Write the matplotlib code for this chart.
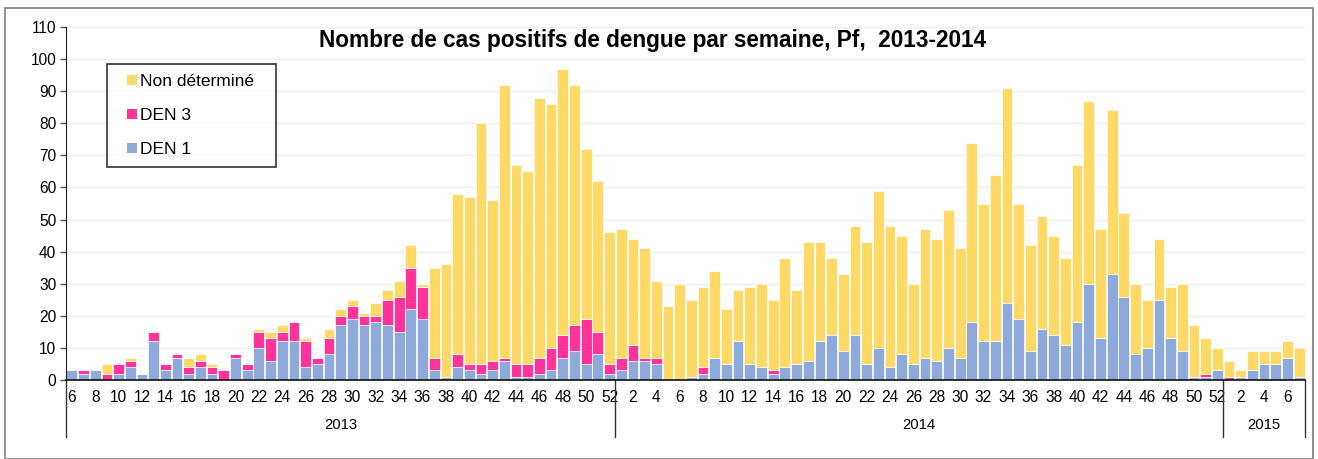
import numpy as np
import matplotlib
matplotlib.use("Agg")
import matplotlib.pyplot as plt
from matplotlib.lines import Line2D
from matplotlib.patches import Rectangle
from matplotlib.transforms import blended_transform_factory

plt.rcParams["font.family"] = ["Liberation Sans", "DejaVu Sans"]

# ---- data (weeks, cases by serotype) ----
years = ["2013", "2014", "2015"]
weeks_2013 = list(range(6, 53))
weeks_2014 = list(range(1, 53))
weeks_2015 = list(range(1, 8))

den1_2013 = [3, 2, 3, 0, 2, 4, 2, 12, 3, 7, 2, 4, 2, 0, 7, 3, 10, 6, 12, 12, 4, 5, 8, 17,
             19, 17, 18, 17, 15, 22, 19, 3, 1, 4, 3, 2, 3, 6, 1, 1, 2, 3, 7, 9, 5, 8, 2]
den3_2013 = [0, 1, 0, 2, 3, 2, 0, 3, 2, 1, 2, 2, 2, 3, 1, 2, 5, 7, 3, 6, 8, 2, 5, 3,
             4, 3, 2, 8, 11, 13, 10, 4, 0, 4, 2, 3, 3, 1, 4, 4, 5, 7, 7, 8, 14, 7, 3]
nd_2013 = [0, 0, 0, 3, 0, 1, 0, 0, 0, 0, 3, 2, 1, 0, 0, 0, 1, 2, 2, 0, 1, 0, 3, 2,
           2, 1, 4, 3, 5, 7, 1, 28, 35, 50, 52, 75, 50, 85, 62, 60, 81, 76, 83, 75, 53, 47, 41]

den1_2014 = [3, 6, 6, 5, 0, 0, 1, 2, 7, 5, 12, 5, 4, 2, 4, 5, 6, 12, 14, 9, 14, 5, 10, 4,
             8, 5, 7, 6, 10, 7, 18, 12, 12, 24, 19, 9, 16, 14, 11, 18, 30, 13, 33, 26, 8, 10,
             25, 13, 9, 1, 1, 3]
den3_2014 = [4, 5, 1, 2, 0, 0, 0, 2, 0, 0, 0, 0, 0, 1, 0, 0, 0, 0, 0, 0, 0, 0, 0, 0,
             0, 0, 0, 0, 0, 0, 0, 0, 0, 0, 0, 0, 0, 0, 0, 0, 0, 0, 0, 0, 0, 0,
             0, 0, 0, 0, 1, 0]
nd_2014 = [40, 33, 34, 24, 23, 30, 24, 25, 27, 17, 16, 24, 26, 22, 34, 23, 37, 31, 24, 24,
           34, 38, 49, 44, 37, 25, 40, 38, 43, 34, 56, 43, 52, 67, 36, 33, 35, 31, 27, 49,
           57, 34, 51, 26, 22, 15, 19, 16, 21, 16, 11, 7]

den1_2015 = [0, 1, 3, 5, 5, 7, 1]
den3_2015 = [1, 0, 0, 0, 0, 0, 0]
nd_2015 = [5, 2, 6, 4, 4, 5, 9]

weeks = weeks_2013 + weeks_2014 + weeks_2015
den1 = np.array(den1_2013 + den1_2014 + den1_2015)
den3 = np.array(den3_2013 + den3_2014 + den3_2015)
nd = np.array(nd_2013 + nd_2014 + nd_2015)
group_sizes = [len(weeks_2013), len(weeks_2014), len(weeks_2015)]

c_den1 = "#8eaadb"
c_den3 = "#ff3399"
c_nd = "#ffd966"

W, H = 1318, 459
fig = plt.figure(figsize=(W / 100, H / 100), dpi=100)
ax = fig.add_axes([66 / W, 1 - 380 / H, (1305 - 66) / W, (380 - 27) / H])

x = np.arange(len(weeks))
bw = 0.92
ax.bar(x, den1, bw, color=c_den1, edgecolor="white", linewidth=0.5, zorder=2)
ax.bar(x, den3, bw, bottom=den1, color=c_den3, edgecolor="white", linewidth=0.5, zorder=2)
ax.bar(x, nd, bw, bottom=den1 + den3, color=c_nd, edgecolor="white", linewidth=0.5, zorder=2)

ax.set_xlim(-0.5, len(weeks) - 0.5)
ax.set_ylim(0, 110)
ax.set_yticks(np.arange(0, 111, 10))
ax.grid(axis="y", color="#eeeeee", linewidth=1, zorder=0)
ax.set_axisbelow(True)

ax.set_xticks(x)
ax.set_xticklabels([str(w) if w % 2 == 0 else "" for w in weeks])
ax.tick_params(axis="x", length=0, pad=7, labelsize=11.2)
ax.tick_params(axis="y", length=4, width=1, color="#555555", pad=3, labelsize=11.2)

for s in ["top", "right"]:
    ax.spines[s].set_visible(False)
ax.spines["left"].set_color("#222222")
ax.spines["bottom"].set_color("#111111")
ax.spines["bottom"].set_linewidth(1.2)

# year grouping below the week labels
trans = blended_transform_factory(ax.transData, ax.transAxes)
edges = np.concatenate([[0], np.cumsum(group_sizes)]) - 0.5
y_low = -(437 - 380) / (380 - 27)
for e in edges:
    ax.plot([e, e], [0, y_low], color="#333333", linewidth=1, transform=trans, clip_on=False)
for i, yr in enumerate(years):
    ax.text((edges[i] + edges[i + 1]) / 2, -(425 - 380) / (380 - 27), yr, transform=trans,
            ha="center", va="center", fontsize=10.7)

fig.text(653 / W, 1 - 41 / H, "Nombre de cas positifs de dengue par semaine, Pf,  2013-2014",
         ha="center", va="center", fontsize=16.3, fontweight="bold")

handles = [Line2D([], [], linestyle="none", marker="s", markersize=6.5, color=c, markeredgewidth=0)
           for c in (c_nd, c_den3, c_den1)]
leg = fig.legend(handles, ["Non déterminé", "DEN 3", "DEN 1"],
                 loc="upper left", mode="expand",
                 bbox_to_anchor=(107 / W, 1 - 163 / H, 169 / W, 99 / H),
                 bbox_transform=fig.transFigure, borderaxespad=0,
                 fontsize=12.5, frameon=True, fancybox=False, shadow=False,
                 borderpad=0.58, labelspacing=1.07, handlelength=1.67, handletextpad=-0.34,
                 numpoints=1)
leg.get_frame().set_edgecolor("black")
leg.get_frame().set_linewidth(1.2)

# outer chart frame
fig.patches.append(Rectangle((5 / W, 0), 1308 / W, 1 - 8 / H, transform=fig.transFigure,
                             fill=False, edgecolor="#7f7f7f", linewidth=1.2))

fig.savefig("out.png", dpi=100)
